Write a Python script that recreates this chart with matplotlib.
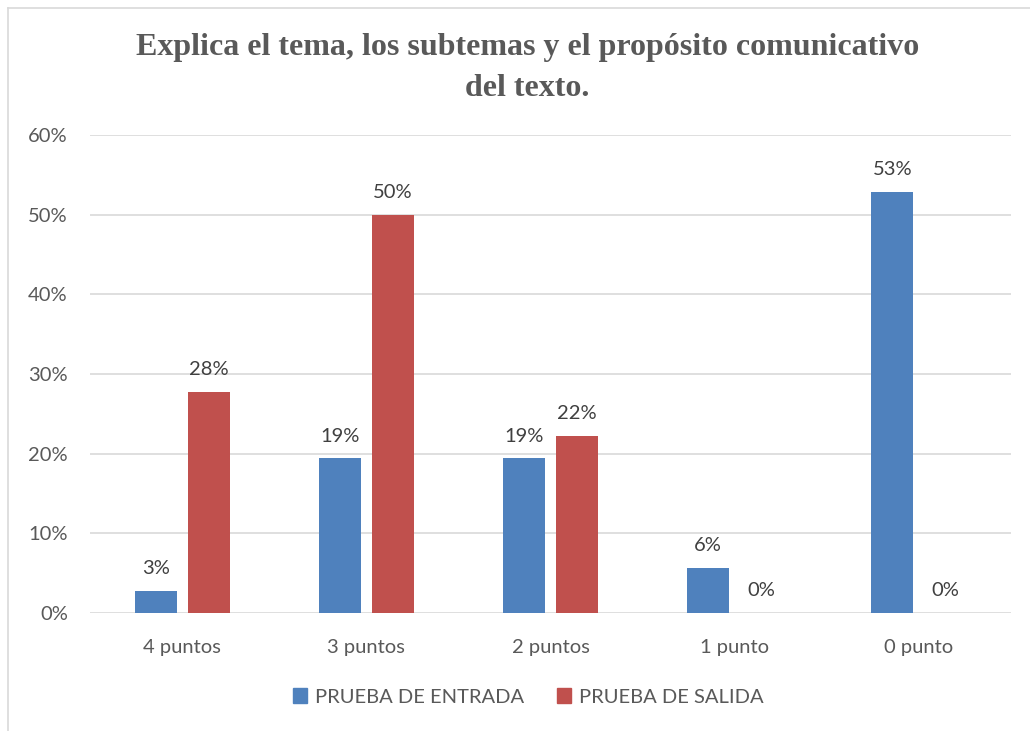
import matplotlib
matplotlib.use("Agg")
import matplotlib.pyplot as plt
import numpy as np
from matplotlib.patches import Rectangle
from matplotlib.lines import Line2D

categories = ["4 puntos", "3 puntos", "2 puntos", "1 punto", "0 punto"]
entrada = [2.8, 19.4, 19.4, 5.6, 52.8]
salida = [27.8, 50.0, 22.2, 0.0, 0.0]
series_names = ["PRUEBA DE ENTRADA", "PRUEBA DE SALIDA"]
yticks = [0, 10, 20, 30, 40, 50, 60]
title = "Explica el tema, los subtemas y el propósito comunicativo\ndel texto."

blue = "#4F81BD"
red = "#C0504D"
txt = "#595959"
font = "Lato"
fs = 14.5

fig = plt.figure(figsize=(10.30, 7.31), dpi=100)
ax = fig.add_axes([90/1030, 1-613/731, (1011-90)/1030, (613-135)/731])

x = np.arange(len(categories))
w = 0.228
off = 0.144
b1 = ax.bar(x - off, entrada, w, color=blue, zorder=3)
b2 = ax.bar(x + off, salida, w, color=red, zorder=3)

for bars, vals in ((b1, entrada), (b2, salida)):
    for rect, v in zip(bars, vals):
        ax.annotate(f"{v:.0f}%", (rect.get_x() + rect.get_width()/2, v),
                    xytext=(0, 10), textcoords="offset points", ha="center", va="bottom",
                    fontsize=fs, color="#404040", family=font)

ax.set_xlim(-0.5, len(categories) - 0.5)
ax.set_ylim(0, 60)
ax.set_yticks(yticks)
ax.set_yticklabels([f"{t}%" for t in yticks])
ax.set_xticks(x)
ax.set_xticklabels(categories)
ax.tick_params(length=0, labelsize=fs, labelcolor=txt)
ax.tick_params(axis="y", pad=16)
ax.tick_params(axis="x", pad=19)
for lab in ax.get_xticklabels() + ax.get_yticklabels():
    lab.set_family(font)
ax.grid(axis="y", color="#D9D9D9", linewidth=1.2, zorder=0)
for s in ax.spines.values():
    s.set_visible(False)

fig.text(0.512, 1-68/731, title, ha="center", va="center", fontsize=23, fontweight="bold",
         family="Liberation Serif", color=txt, linespacing=1.5)

handles = [Rectangle((0, 0), 1, 1, color=blue), Rectangle((0, 0), 1, 1, color=red)]
fig.legend(handles, series_names, loc="center", bbox_to_anchor=(0.513, 1-697/731), ncol=2,
           frameon=False, prop={"family": font, "size": fs}, labelcolor=txt,
           handlelength=0.7, handleheight=0.7, handletextpad=0.4, columnspacing=1.6)

fig.add_artist(Line2D([8/1030, 8/1030], [0, 1-8/731], color="#D9D9D9", lw=1.2, transform=fig.transFigure))
fig.add_artist(Line2D([8/1030, 1], [1-8/731, 1-8/731], color="#D9D9D9", lw=1.2, transform=fig.transFigure))

fig.savefig("out.png", dpi=100, facecolor="white")
